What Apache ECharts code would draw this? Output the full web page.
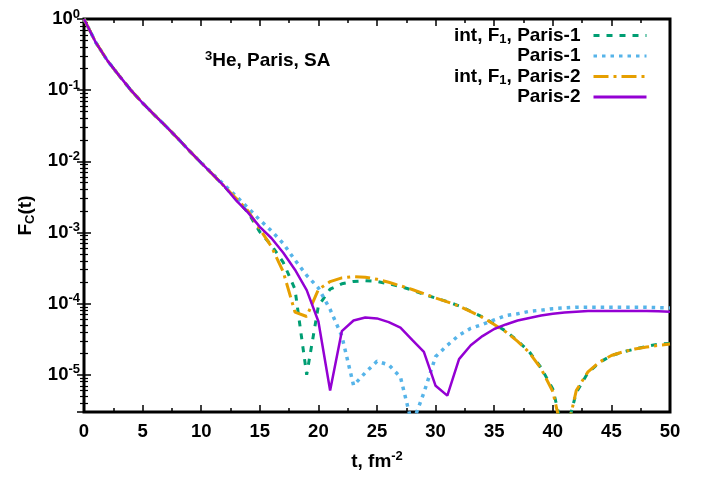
<!DOCTYPE html>
<html>
<head>
<meta charset="utf-8">
<script src="https://cdn.jsdelivr.net/npm/echarts@6/dist/echarts.min.js"></script>
<style>
html, body { margin: 0; padding: 0; background: #fff; }
#chart { width: 706px; height: 494px; }
</style>
</head>
<body>
<div id="chart"></div>
<script>
// momentum transfer t, fm^-2
const tValues = [0, 1, 2, 3, 4, 5, 6, 7, 8, 9, 10, 11, 12, 13, 14, 15, 16, 17, 18, 19, 20,
  21, 22, 23, 24, 25, 26, 27, 28, 29, 30, 31, 32, 33, 34, 35, 36, 37, 38, 39, 40,
  41, 42, 43, 44, 45, 46, 47, 48, 49, 50]

const intParis1 = [1, 0.47, 0.26, 0.16, 0.1, 0.066, 0.045, 0.031, 0.021, 0.014, 0.0095,
  0.0065, 0.0044, 0.0029, 0.0019, 0.00102, 6.6e-4, 3.8e-4, 1.6e-4, 1.0e-5, 9.3e-5,
  1.6e-4, 1.9e-4, 2.05e-4, 2.1e-4, 2.05e-4, 1.9e-4, 1.74e-4, 1.55e-4, 1.35e-4, 1.2e-4,
  1.07e-4, 9.3e-5, 7.8e-5, 6.5e-5, 5.2e-5, 4.1e-5, 3.0e-5, 2.1e-5, 1.26e-5, 6.3e-6,
  1.3e-6, 5.6e-6, 1.07e-5, 1.5e-5, 1.86e-5, 2.1e-5, 2.3e-5, 2.5e-5, 2.7e-5, 2.75e-5]

const paris1 = [1, 0.47, 0.26, 0.16, 0.1, 0.066, 0.045, 0.031, 0.021, 0.014, 0.0096,
  0.0066, 0.0046, 0.0032, 0.0022, 0.0015, 0.00105, 7.0e-4, 4.1e-4, 2.5e-4, 1.66e-4,
  8.3e-5, 3.5e-5, 7.1e-6, 1.07e-5, 1.55e-5, 1.38e-5, 9.3e-6, 2.0e-6, 5.6e-6, 1.8e-5,
  2.6e-5, 3.6e-5, 4.5e-5, 5.1e-5, 5.9e-5, 6.8e-5, 7.2e-5, 7.8e-5, 8.1e-5, 8.5e-5,
  8.7e-5, 8.9e-5, 8.9e-5, 8.9e-5, 8.9e-5, 8.9e-5, 8.9e-5, 8.9e-5, 8.8e-5, 8.7e-5]

const intParis2 = [1, 0.47, 0.26, 0.16, 0.1, 0.066, 0.045, 0.031, 0.021, 0.014, 0.0095,
  0.0065, 0.0044, 0.003, 0.002, 0.00112, 6.3e-4, 2.8e-4, 7.6e-5, 6.6e-5, 1.58e-4,
  2.04e-4, 2.3e-4, 2.4e-4, 2.35e-4, 2.2e-4, 2.0e-4, 1.78e-4, 1.58e-4, 1.38e-4, 1.2e-4,
  1.06e-4, 9.2e-5, 7.7e-5, 6.4e-5, 5.1e-5, 4.0e-5, 2.95e-5, 2.05e-5, 1.22e-5, 5.8e-6,
  1.1e-6, 6.0e-6, 1.1e-5, 1.52e-5, 1.87e-5, 2.1e-5, 2.3e-5, 2.45e-5, 2.6e-5, 2.7e-5]

const paris2 = [1, 0.47, 0.26, 0.16, 0.1, 0.066, 0.045, 0.031, 0.021, 0.014, 0.0095,
  0.0065, 0.0044, 0.0028, 0.0019, 0.0012, 8.3e-4, 5.2e-4, 3.0e-4, 1.55e-4, 5.6e-5,
  6.0e-6, 4.1e-5, 5.8e-5, 6.4e-5, 6.2e-5, 5.5e-5, 4.6e-5, 3.1e-5, 2.1e-5, 7.0e-6,
  5.1e-6, 1.66e-5, 2.6e-5, 3.5e-5, 4.4e-5, 5.1e-5, 5.8e-5, 6.3e-5, 6.8e-5, 7.2e-5,
  7.5e-5, 7.7e-5, 7.9e-5, 7.9e-5, 7.9e-5, 7.9e-5, 7.9e-5, 7.9e-5, 7.8e-5, 7.7e-5]

const seriesNames = ['int, F1, Paris-1', 'Paris-1', 'int, F1, Paris-2', 'Paris-2']
const seriesData = [intParis1, paris1, intParis2, paris2]
const seriesColors = ['#009e73', '#56b4e9', '#e69f00', '#9400d3']
const lineTypes = [[6, 7], [3.5, 5], [15, 5, 3, 5], 'solid']
const lineWidths = [3, 3.5, 3, 2.5]

const fontFamily = '"Liberation Sans", Arial, sans-serif'

let myChart = echarts.init(document.getElementById('chart'))

function powLabel (v) {
  let e = Math.log10(v)
  let n = Math.round(e)
  if (Math.abs(e - n) > 0.01) {
    return ''
  }
  return '10{sup|' + n + '}'
}

let series = []
for (let i = 0; i < seriesNames.length; i++) {
  series.push({
    name: seriesNames[i],
    type: 'line',
    symbol: 'none',
    clip: true,
    color: seriesColors[i],
    lineStyle: {
      width: lineWidths[i],
      type: lineTypes[i],
      color: seriesColors[i],
      cap: 'butt'
    },
    data: tValues.map((t, k) => [t, seriesData[i][k]])
  })
}

const labelStyle = {
  color: '#000',
  fontSize: 18.5,
  fontWeight: 'bold',
  fontFamily: fontFamily
}
const tickStyle = { inside: true, length: 7, lineStyle: { color: '#000', width: 1.5 } }
const minorX = { show: true, splitNumber: 2, length: 4, lineStyle: { color: '#000', width: 1.5 } }
const minorY = { show: true, splitNumber: 9, length: 4, lineStyle: { color: '#000', width: 1.2 } }

let option = {
  animation: false,
  backgroundColor: '#fff',
  title: {
    text: '{sup|3}He, Paris, SA',
    left: 200,
    top: 45,
    textStyle: {
      color: '#000',
      fontSize: 19,
      fontWeight: 'bold',
      fontFamily: fontFamily,
      rich: {
        sup: { fontSize: 13, fontWeight: 'bold', fontFamily: fontFamily, padding: [0, 0, 9, 0] }
      }
    }
  },
  legend: {
    orient: 'vertical',
    right: 53,
    top: 20,
    align: 'right',
    itemWidth: 53,
    itemHeight: 14,
    itemGap: 0,
    data: seriesNames,
    itemStyle: { opacity: 0 },
    lineStyle: { width: 3 },
    formatter: function (name) {
      return name.replace('F1', 'F{sub|1}')
    },
    textStyle: {
      color: '#000',
      fontSize: 19,
      lineHeight: 20,
      fontWeight: 'bold',
      fontFamily: fontFamily,
      padding: [0, 8, 0, 0],
      rich: {
        sub: { fontSize: 13, lineHeight: 20, fontWeight: 'bold', fontFamily: fontFamily, padding: [8, 0, 0, 0] }
      }
    }
  },
  grid: {
    left: 84,
    right: 36,
    top: 19,
    bottom: 82,
    show: true,
    borderColor: '#000',
    borderWidth: 3
  },
  xAxis: [{
    type: 'value',
    min: 0,
    max: 50,
    interval: 5,
    name: 't, fm{sup|-2}',
    nameLocation: 'middle',
    nameGap: 38,
    nameTextStyle: {
      color: '#000',
      fontSize: 19,
      fontWeight: 'bold',
      fontFamily: fontFamily,
      rich: {
        sup: { fontSize: 13, fontWeight: 'bold', fontFamily: fontFamily, padding: [0, 0, 10, 0] }
      }
    },
    axisLine: { show: false },
    axisTick: tickStyle,
    minorTick: minorX,
    splitLine: { show: false },
    axisLabel: Object.assign({ margin: 10 }, labelStyle)
  }, {
    type: 'value',
    position: 'top',
    min: 0,
    max: 50,
    interval: 5,
    axisLine: { show: false },
    axisTick: tickStyle,
    minorTick: minorX,
    splitLine: { show: false },
    axisLabel: { show: false }
  }],
  yAxis: [{
    type: 'log',
    logBase: 10,
    min: 3e-6,
    max: 1,
    name: 'F{sub|C}(t)',
    nameLocation: 'middle',
    nameGap: 44,
    nameRotate: 90,
    nameTextStyle: {
      color: '#000',
      fontSize: 19,
      fontWeight: 'bold',
      fontFamily: fontFamily,
      rich: {
        sub: { fontSize: 13, fontWeight: 'bold', fontFamily: fontFamily, padding: [10, 0, 0, 0] }
      }
    },
    axisLine: { show: false },
    axisTick: tickStyle,
    minorTick: minorY,
    splitLine: { show: false },
    axisLabel: Object.assign({
      margin: 4,
      formatter: powLabel,
      rich: {
        sup: { fontSize: 13, fontWeight: 'bold', fontFamily: fontFamily, color: '#000', padding: [0, 0, 10, 0] }
      }
    }, labelStyle)
  }, {
    type: 'log',
    logBase: 10,
    position: 'right',
    min: 3e-6,
    max: 1,
    axisLine: { show: false },
    axisTick: tickStyle,
    minorTick: minorY,
    splitLine: { show: false },
    axisLabel: { show: false }
  }],
  series: series
}
myChart.setOption(option)
</script>
</body>
</html>
